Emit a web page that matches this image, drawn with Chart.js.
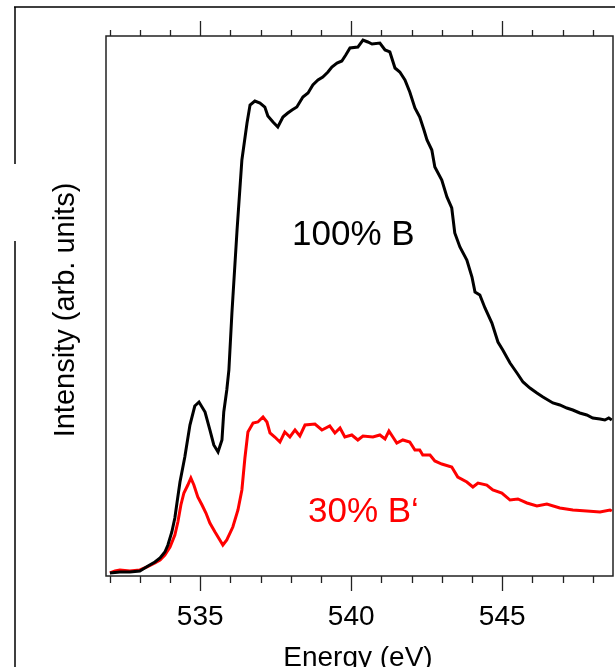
<!DOCTYPE html>
<html>
<head>
<meta charset="utf-8">
<script src="https://cdn.jsdelivr.net/npm/chart.js@4.4.1/dist/chart.umd.min.js"></script>
<style>
	body { margin: 0; background: #fff; }
	canvas { display: block; }
</style>
</head>
<body>
<canvas id="xasChart" width="615" height="667"></canvas>
<script>
	// O K-edge spectra, energies in eV, intensity in arb. units (0..100 = plot height)
	var energyB = [532.01, 532.34, 532.67, 533.00, 533.27, 533.50, 533.67, 533.83, 533.93, 534.06,
		534.16, 534.23, 534.33, 534.49, 534.66, 534.82, 534.96, 535.16, 535.32, 535.45,
		535.59, 535.72, 535.78, 535.88, 535.95, 536.05, 536.22, 536.38, 536.55, 536.65,
		536.81, 536.98, 537.14, 537.24, 537.41, 537.57, 537.74, 537.90, 538.04, 538.20,
		538.40, 538.57, 538.73, 538.90, 539.06, 539.23, 539.36, 539.53, 539.69, 539.82,
		539.96, 540.22, 540.39, 540.55, 540.69, 540.95, 541.12, 541.28, 541.45, 541.61,
		541.78, 541.94, 542.11, 542.27, 542.41, 542.51, 542.67, 542.77, 543.00, 543.17,
		543.33, 543.43, 543.60, 543.83, 544.00, 544.10, 544.26, 544.43, 544.66, 544.86,
		545.02, 545.26, 545.49, 545.69, 545.92, 546.15, 546.35, 546.68, 546.91, 547.14,
		547.34, 547.57, 547.80, 548.00, 548.24, 548.40, 548.53, 548.63];
	var intensityB = [0.56, 0.74, 0.74, 0.93, 1.85, 2.59, 3.33, 4.44, 5.74, 8.15,
		10.74, 13.52, 17.41, 22.04, 27.96, 31.48, 32.22, 30.37, 27.04, 24.26,
		22.96, 25.19, 30.37, 34.44, 38.15, 48.70, 64.07, 77.04, 83.89, 87.22,
		87.96, 87.59, 86.85, 85.19, 84.07, 83.15, 85.00, 85.74, 86.30, 86.85,
		88.70, 89.44, 90.93, 91.85, 92.41, 93.33, 94.26, 95.00, 95.37, 96.48,
		97.78, 97.96, 99.26, 98.89, 98.52, 98.70, 97.41, 97.04, 94.07, 93.33,
		91.85, 89.63, 86.67, 85.00, 82.59, 80.74, 78.89, 75.74, 73.33, 70.19,
		68.15, 63.52, 60.93, 58.52, 55.37, 52.59, 52.04, 49.63, 46.85, 43.33,
		41.85, 39.44, 37.59, 35.93, 34.81, 33.89, 33.15, 32.04, 31.67, 31.11,
		30.74, 30.19, 29.81, 29.26, 29.07, 28.89, 29.26, 28.89];

	var energyB2 = [532.01, 532.18, 532.34, 532.67, 533.00, 533.24, 533.50, 533.67, 533.83, 534.00,
		534.16, 534.26, 534.36, 534.46, 534.59, 534.69, 534.79, 534.92, 535.06, 535.19,
		535.32, 535.49, 535.65, 535.75, 535.88, 536.08, 536.25, 536.38, 536.48, 536.58,
		536.75, 536.91, 537.08, 537.21, 537.31, 537.47, 537.64, 537.80, 537.97, 538.14,
		538.30, 538.47, 538.80, 539.03, 539.29, 539.46, 539.63, 539.79, 540.02, 540.22,
		540.39, 540.72, 540.95, 541.12, 541.25, 541.38, 541.51, 541.71, 541.94, 542.11,
		542.27, 542.37, 542.61, 542.77, 543.00, 543.33, 543.53, 543.83, 544.03, 544.20,
		544.49, 544.69, 544.99, 545.26, 545.52, 545.82, 546.15, 546.48, 546.91, 547.34,
		547.80, 548.24, 548.57, 548.63];
	var intensityB2 = [0.56, 0.93, 1.11, 0.93, 1.11, 1.67, 2.41, 2.96, 3.89, 5.37,
		7.59, 10.00, 13.15, 15.37, 16.85, 18.15, 16.85, 14.63, 13.15, 11.67,
		9.81, 8.15, 6.67, 5.74, 6.67, 9.07, 12.22, 15.93, 21.85, 26.67,
		28.33, 28.52, 29.44, 28.52, 26.48, 25.74, 24.81, 26.67, 25.74, 27.04,
		25.93, 27.96, 28.15, 27.04, 27.78, 26.48, 27.41, 25.74, 26.11, 25.19,
		25.93, 25.74, 26.11, 25.37, 26.85, 25.74, 24.63, 25.19, 24.81, 23.33,
		23.33, 22.41, 22.41, 21.30, 20.74, 20.19, 18.33, 17.41, 16.48, 17.22,
		16.85, 15.93, 15.37, 14.07, 14.26, 13.52, 12.96, 13.33, 12.59, 12.22,
		12.04, 11.85, 12.22, 12.04];

	var majorTicks = [535, 540, 545];
	var minorTicks = [532, 533, 534, 536, 537, 538, 539, 541, 542, 543, 544, 546, 547, 548];
	var seriesLabels = ['100% B', '30% B\u2018'];
	var seriesColors = ['#000000', '#ff0000'];
	var xTitle = 'Energy (eV)';
	var yTitle = 'Intensity (arb. units)';

	var font = '"Liberation Sans", Arial, sans-serif';

	function toPoints(xs, ys) {
		return xs.map(function (x, i) { return { x: x, y: ys[i] }; });
	}

	/**
	 * Draws the plot box, mirrored ticks on top and bottom,
	 * tick labels, axis titles and the in-plot labels
	 */
	var frameAndTicks = {
		id: 'frameAndTicks',
		afterDraw: function (chart) {
			var ctx = chart.ctx;
			var area = chart.chartArea;
			var xScale = chart.scales.x;
			ctx.save();

			// slide frame lines
			ctx.strokeStyle = '#000';
			ctx.lineWidth = 1.5;
			ctx.beginPath();
			ctx.moveTo(14, 7); ctx.lineTo(615, 7);
			ctx.moveTo(15, 7); ctx.lineTo(15, 164);
			ctx.moveTo(15, 241); ctx.lineTo(15, 667);
			ctx.stroke();

			// plot box
			ctx.strokeStyle = '#222';
			ctx.lineWidth = 1.5;
			ctx.strokeRect(area.left, area.top, area.right - area.left, area.bottom - area.top);

			// ticks (bottom pointing down, top pointing up)
			ctx.lineWidth = 1.3;
			ctx.beginPath();
			minorTicks.forEach(function (v) {
				var px = Math.round(xScale.getPixelForValue(v)) + 0.5;
				ctx.moveTo(px, area.bottom); ctx.lineTo(px, area.bottom + 7);
				ctx.moveTo(px, area.top); ctx.lineTo(px, area.top - 6);
			});
			majorTicks.forEach(function (v) {
				var px = Math.round(xScale.getPixelForValue(v)) + 0.5;
				ctx.moveTo(px, area.bottom); ctx.lineTo(px, area.bottom + 15);
				ctx.moveTo(px, area.top); ctx.lineTo(px, area.top - 15);
			});
			ctx.stroke();

			// tick labels
			ctx.fillStyle = '#000';
			ctx.font = '28px ' + font;
			ctx.textAlign = 'center';
			ctx.textBaseline = 'alphabetic';
			majorTicks.forEach(function (v) {
				ctx.fillText(String(v), xScale.getPixelForValue(v), 625);
			});

			// axis titles
			ctx.fillText(xTitle, 358, 666);
			ctx.save();
			ctx.translate(74, 310);
			ctx.rotate(-Math.PI / 2);
			ctx.font = '29px ' + font;
			ctx.fillText(yTitle, 0, 0);
			ctx.restore();

			// series labels
			ctx.font = '35px ' + font;
			ctx.textAlign = 'left';
			ctx.fillStyle = seriesColors[0];
			ctx.fillText(seriesLabels[0], 292, 245);
			ctx.fillStyle = seriesColors[1];
			ctx.fillText(seriesLabels[1], 308, 522);

			ctx.restore();
		}
	};

	var ctx = document.getElementById('xasChart').getContext('2d');
	var xasChart = new Chart(ctx, {
		type: 'line',
		data: {
			datasets: [{
				label: seriesLabels[0],
				data: toPoints(energyB, intensityB),
				borderColor: seriesColors[0],
				borderWidth: 3,
				pointRadius: 0,
				tension: 0,
				fill: false
			}, {
				label: seriesLabels[1],
				data: toPoints(energyB2, intensityB2),
				borderColor: seriesColors[1],
				borderWidth: 3,
				pointRadius: 0,
				tension: 0,
				fill: false
			}]
		},
		options: {
			responsive: false,
			animation: false,
			layout: {
				padding: { left: 106, right: 2, top: 36, bottom: 91 }
			},
			plugins: {
				legend: { display: false },
				tooltip: { enabled: false }
			},
			scales: {
				x: { type: 'linear', min: 531.88, max: 548.67, display: false },
				y: { min: 0, max: 100, display: false }
			}
		},
		plugins: [frameAndTicks]
	});
</script>
</body>
</html>
